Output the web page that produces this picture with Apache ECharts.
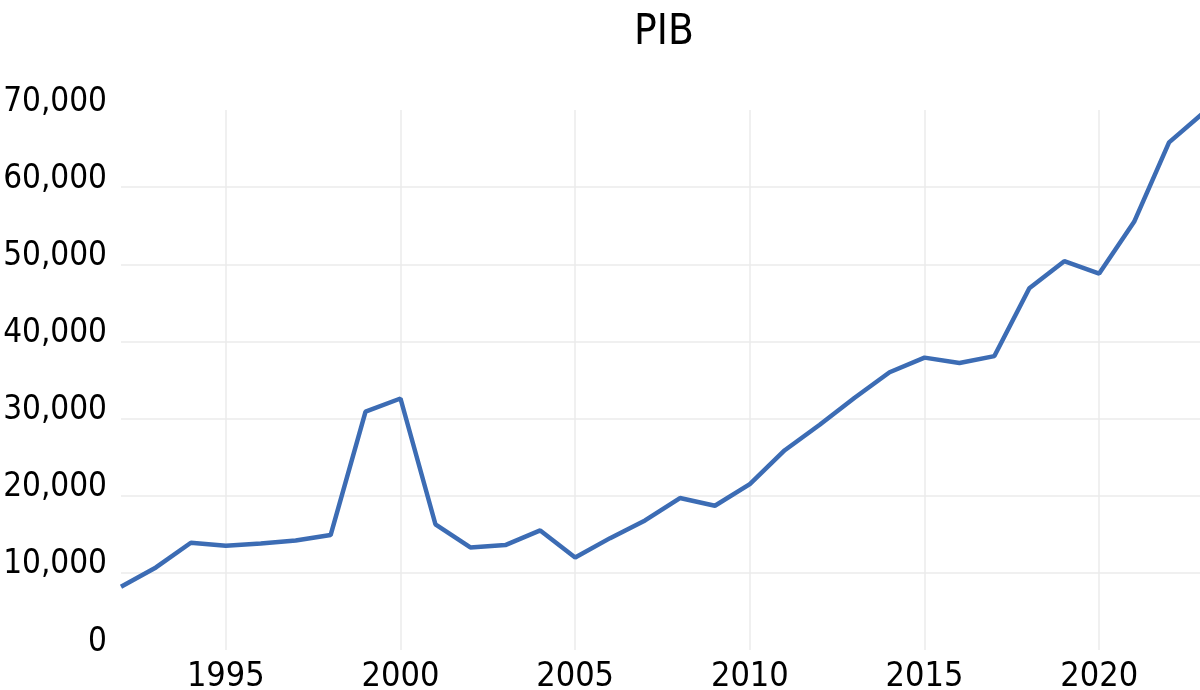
<!DOCTYPE html>
<html>
<head>
<meta charset="utf-8">
<script src="https://cdn.jsdelivr.net/npm/echarts@6/dist/echarts.min.js"></script>
<style>
  html, body { margin: 0; padding: 0; background: #fff; }
  #pib_chart { width: 1200px; height: 690px; }
</style>
</head>
<body>
<div id="pib_chart"></div>
<script>
// years on the x axis
var years = [];
for (var y = 1992; y <= 2023; y++) years.push(String(y));

// PIB values
var pibValues = [
  8200, 10700, 13900, 13500, 13800, 14200, 14900, 30900, 32600, 16300,
  13300, 13600, 15500, 12000, 14500, 16800, 19700, 18700, 21500, 25900,
  29200, 32700, 36000, 37900, 37200, 38100, 46900, 50400, 48800, 55500,
  65800, 69700
];

var yTicks = [0, 10000, 20000, 30000, 40000, 50000, 60000, 70000];

var labelFont = '"Liberation Sans Narrow", "DejaVu Sans Condensed", "Noto Sans", sans-serif';

var myChart = echarts.init(document.getElementById('pib_chart'));
var option = {
  animation: false,
  title: {
    text: 'PIB',
    left: 629,
    top: 7,
    textStyle: {
      color: '#000',
      fontFamily: labelFont,
      fontWeight: 'normal',
      fontSize: 42
    }
  },
  grid: {
    left: 121,
    top: 110,
    width: 1083,
    bottom: 40,
    containLabel: false,
    outerBoundsMode: 'none'
  },
  xAxis: {
    type: 'category',
    boundaryGap: false,
    data: years,
    axisLine: { show: false },
    axisTick: { show: false },
    axisLabel: {
      interval: function (i, v) { return Number(v) % 5 === 0; },
      color: '#000',
      fontFamily: labelFont,
      fontSize: 34,
      margin: 10
    },
    splitLine: {
      show: true,
      interval: function (i, v) { return Number(v) % 5 === 0; },
      lineStyle: { color: '#ebebeb', width: 1.5 }
    }
  },
  yAxis: {
    type: 'value',
    min: yTicks[0],
    max: yTicks[yTicks.length - 1],
    interval: 10000,
    axisLine: { show: false },
    axisTick: { show: false },
    axisLabel: {
      color: '#000',
      fontFamily: labelFont,
      fontSize: 33,
      margin: 14,
      verticalAlign: 'bottom',
      lineHeight: 16,
      formatter: function (v) { return v.toLocaleString('en-US'); }
    },
    splitLine: {
      show: true,
      showMinLine: false,
      showMaxLine: false,
      lineStyle: { color: '#ebebeb', width: 1.5 }
    }
  },
  series: [{
    type: 'line',
    data: pibValues,
    symbol: 'none',
    lineStyle: { color: '#3c6cb4', width: 4.5 },
    clip: true
  }]
};
myChart.setOption(option);
</script>
</body>
</html>
